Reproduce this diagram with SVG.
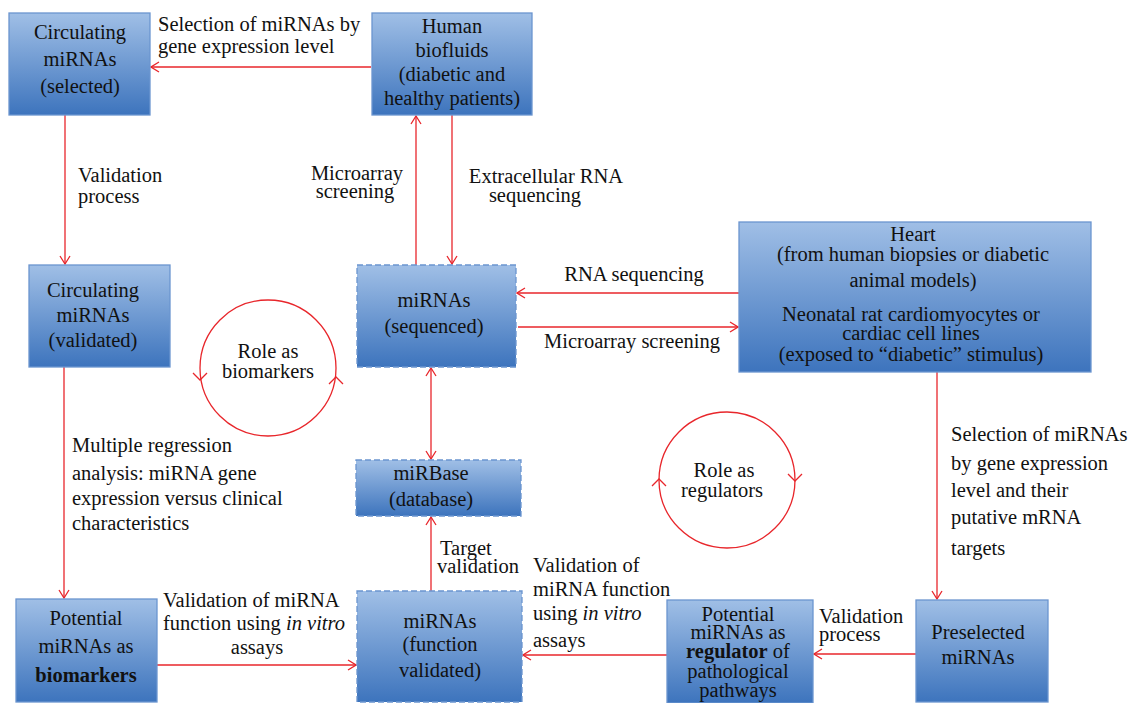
<svg xmlns="http://www.w3.org/2000/svg" width="1131" height="703" viewBox="0 0 1131 703" font-family="'Liberation Serif', 'DejaVu Serif', serif">
<defs>
<linearGradient id="bg" x1="0" y1="0" x2="0" y2="1">
<stop offset="0" stop-color="#a0bfe6"/>
<stop offset="1" stop-color="#3d74bd"/>
</linearGradient>
<marker id="ah" viewBox="0 0 10 12" refX="9" refY="6" markerWidth="10" markerHeight="12" markerUnits="userSpaceOnUse" orient="auto-start-reverse">
<path d="M1,1 L9,6 L1,11" fill="none" stroke="#e8262b" stroke-width="1.3"/>
</marker>
<style>
.box{fill:url(#bg);stroke:#6b95cf;stroke-width:1.3}
.dash{stroke-dasharray:6 3}
.t{font-family:'Liberation Serif','DejaVu Serif',serif;font-size:20.5px;fill:#111}
.m{text-anchor:middle}
.c{fill:none;stroke:#e8262b;stroke-width:1.3}
.b{font-weight:bold}
</style>
</defs>
<rect width="1131" height="703" fill="#fff"/>

<g id="connectors">
<path class="c" d="M371,67 H151" marker-end="url(#ah)"/>
<path class="c" d="M65,115 V264" marker-end="url(#ah)"/>
<path class="c" d="M64,367 V598" marker-end="url(#ah)"/>
<path class="c" d="M416,265 V116" marker-end="url(#ah)"/>
<path class="c" d="M452,115 V264" marker-end="url(#ah)"/>
<path class="c" d="M739,293 H517" marker-end="url(#ah)"/>
<path class="c" d="M518,327 H738" marker-end="url(#ah)"/>
<path class="c" d="M431,368 V459" marker-start="url(#ah)" marker-end="url(#ah)"/>
<path class="c" d="M431,591 V517" marker-end="url(#ah)"/>
<path class="c" d="M157,665 H356" marker-end="url(#ah)"/>
<path class="c" d="M667,655 H523" marker-end="url(#ah)"/>
<path class="c" d="M916,654 H814" marker-end="url(#ah)"/>
<path class="c" d="M937,372 V599" marker-end="url(#ah)"/>
<circle class="c" cx="268" cy="368" r="68"/>
<path class="c" d="M193,373 L200,380 L207,373"/>
<path class="c" d="M329,384 L336,377 L343,384"/>
<circle class="c" cx="727" cy="480" r="68"/>
<path class="c" d="M652,486 L659,479 L666,486"/>
<path class="c" d="M788,474 L795,481 L802,474"/>
</g>

<g id="edge-labels">
<text class="t" x="158" y="31">Selection of miRNAs by</text>
<text class="t" x="158" y="53">gene expression level</text>
<text class="t" x="78" y="182">Validation</text>
<text class="t" x="78" y="203">process</text>
<text class="t m" x="357" y="180">Microarray</text>
<text class="t m" x="355" y="198">screening</text>
<text class="t m" x="546" y="183">Extracellular RNA</text>
<text class="t m" x="535" y="202">sequencing</text>
<text class="t m" x="634" y="281">RNA sequencing</text>
<text class="t m" x="632" y="348">Microarray screening</text>
<text class="t" x="72" y="452">Multiple regression</text>
<text class="t" x="72" y="480">analysis: miRNA gene</text>
<text class="t" x="72" y="505">expression versus clinical</text>
<text class="t" x="72" y="530"> characteristics</text>
<text class="t m" x="268" y="358">Role as</text>
<text class="t m" x="268" y="378">biomarkers</text>
<text class="t m" x="724" y="477">Role as</text>
<text class="t m" x="722" y="497">regulators</text>
<text class="t" x="951" y="441">Selection of miRNAs</text>
<text class="t" x="951" y="470">by gene expression</text>
<text class="t" x="951" y="497">level and their</text>
<text class="t" x="951" y="524">putative mRNA</text>
<text class="t" x="951" y="555">targets</text>
<text class="t" x="440" y="555">Target</text>
<text class="t" x="437" y="573">validation</text>
<text class="t" x="533" y="572">Validation of</text>
<text class="t" x="533" y="596">miRNA function</text>
<text class="t" x="533" y="620">using <tspan font-style="italic">in vitro</tspan></text>
<text class="t" x="533" y="647">assays</text>
<text class="t" x="163" y="607">Validation of miRNA</text>
<text class="t" x="163" y="630">function using <tspan font-style="italic">in vitro</tspan></text>
<text class="t m" x="257" y="654">assays</text>
<text class="t" x="819" y="623">Validation</text>
<text class="t" x="819" y="641">process</text>
</g>

<g id="circ-selected">
<rect class="box" x="9" y="13" width="141" height="102"/>
<text class="t m" x="80" y="39">Circulating</text>
<text class="t m" x="80" y="66">miRNAs</text>
<text class="t m" x="80" y="93">(selected)</text>
</g>

<g id="human-biofluids">
<rect class="box" x="372" y="13" width="160" height="102"/>
<text class="t m" x="452" y="33">Human</text>
<text class="t m" x="452" y="57">biofluids</text>
<text class="t m" x="452" y="81">(diabetic and</text>
<text class="t m" x="452" y="105">healthy patients)</text>
</g>

<g id="circ-validated">
<rect class="box" x="29" y="265" width="141" height="102"/>
<text class="t m" x="93" y="297">Circulating</text>
<text class="t m" x="93" y="322">miRNAs</text>
<text class="t m" x="93" y="347">(validated)</text>
</g>

<g id="mirnas-sequenced">
<rect class="box dash" x="357" y="265" width="159" height="102"/>
<text class="t m" x="434" y="307">miRNAs</text>
<text class="t m" x="434" y="333">(sequenced)</text>
</g>

<g id="heart">
<rect class="box" x="739" y="222" width="352" height="150"/>
<text class="t m" x="913" y="241">Heart</text>
<text class="t m" x="913" y="261">(from human biopsies or diabetic</text>
<text class="t m" x="913" y="287">animal models)</text>
<text class="t m" x="911" y="321">Neonatal rat cardiomyocytes or</text>
<text class="t m" x="911" y="340">cardiac cell lines</text>
<text class="t m" x="911" y="361">(exposed to “diabetic” stimulus)</text>
</g>

<g id="mirbase">
<rect class="box dash" x="356" y="460" width="165" height="56"/>
<text class="t m" x="431" y="480">miRBase</text>
<text class="t m" x="431" y="506">(database)</text>
</g>

<g id="potential-biomarkers">
<rect class="box" x="16" y="599" width="141" height="103"/>
<text class="t m" x="86" y="625">Potential</text>
<text class="t m" x="86" y="653">miRNAs as</text>
<text class="t m b" x="86" y="682">biomarkers</text>
</g>

<g id="mirnas-function-validated">
<rect class="box dash" x="357" y="591" width="165" height="111"/>
<text class="t m" x="440" y="628">miRNAs</text>
<text class="t m" x="440" y="651">(function</text>
<text class="t m" x="440" y="677">validated)</text>
</g>

<g id="potential-regulator">
<rect class="box" x="667" y="600" width="146" height="103"/>
<text class="t m" x="738" y="621">Potential</text>
<text class="t m" x="738" y="639">miRNAs as</text>
<text class="t m" x="738" y="658"><tspan class="b">regulator</tspan> of</text>
<text class="t m" x="738" y="678">pathological</text>
<text class="t m" x="738" y="697">pathways</text>
</g>

<g id="preselected">
<rect class="box" x="916" y="600" width="132" height="102"/>
<text class="t m" x="978" y="639">Preselected</text>
<text class="t m" x="978" y="664">miRNAs</text>
</g>
</svg>
